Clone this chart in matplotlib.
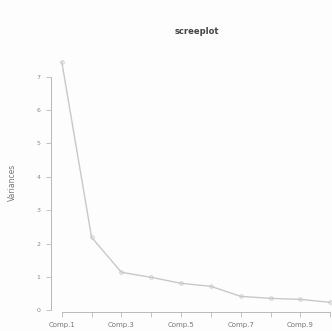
import matplotlib
matplotlib.use("Agg")
import matplotlib.pyplot as plt

components = ["Comp.1", "Comp.2", "Comp.3", "Comp.4", "Comp.5",
              "Comp.6", "Comp.7", "Comp.8", "Comp.9", "Comp.10"]
variances = [7.45, 2.19, 1.14, 0.99, 0.81, 0.72, 0.42, 0.36, 0.33, 0.24]
y_ticks = [0, 1, 2, 3, 4, 5, 6, 7]
y_ticklabels = ["0", "1", "2", "3", "4", "5", "6", "7"]
x_ticklabels = [c if i % 2 == 0 else "" for i, c in enumerate(components)]

fig = plt.figure(figsize=(3.32, 3.31), dpi=100)
fig.patch.set_facecolor("#fdfdfd")
ax = fig.add_axes([51/332, 19/331, 290/332, 260/331])
ax.set_facecolor("none")

x = list(range(1, len(variances) + 1))
ax.plot(x, variances, color="#c8c8c8", lw=1.0, marker="o", ms=2.5,
        mfc="none", mec="#c8c8c8", mew=0.6)

rng = max(variances) - min(variances)
ax.set_xlim(1 - 0.04 * 9, 10 + 0.04 * 9)
ax.set_ylim(min(variances) - 0.04 * rng, max(variances) + 0.04 * rng)

for s in ["top", "right"]:
    ax.spines[s].set_visible(False)
ax.spines["left"].set_bounds(0, 7)
ax.spines["bottom"].set_bounds(1, 10)
for s in ["left", "bottom"]:
    ax.spines[s].set_color("#b8b8b8")
    ax.spines[s].set_linewidth(0.7)

ax.set_xticks(x)
ax.set_xticklabels(x_ticklabels, fontsize=5, color="#777777")
ax.set_yticks(y_ticks)
ax.set_yticklabels(y_ticklabels, fontsize=4.5, color="#888888")
ax.tick_params(axis="both", length=3.5, width=0.6, color="#b8b8b8", pad=4)

ax.set_ylabel("Variances", fontsize=5.5, color="#777777", labelpad=14)
fig.text(197/332, 1 - 32/331, "screeplot", ha="center", va="center",
         fontsize=6, fontweight="bold", color="#444444")

fig.savefig("out.png", dpi=100, facecolor=fig.get_facecolor())
